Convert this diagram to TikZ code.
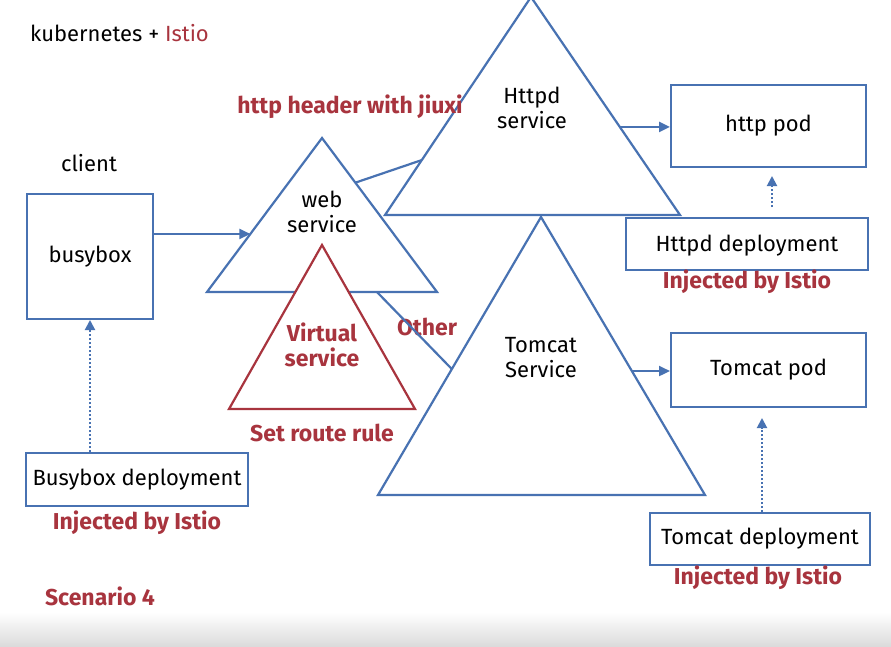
\documentclass[tikz,border=0pt]{standalone}
\usepackage{fontspec}
\setmainfont{Fira Sans}
\usetikzlibrary{arrows.meta,calc}
\definecolor{lblue}{RGB}{72,114,178}
\definecolor{lred}{RGB}{168,52,62}
\tikzset{
  bl/.style={draw=lblue,line width=2pt},
  box/.style={bl,fill=white,inner sep=0pt},
  tri/.style={draw=lblue,line width=2.2pt,fill=white,line join=miter},
  vtri/.style={draw=lred,line width=2.2pt,fill=white},
  arr/.style={draw=lblue,line width=2.2pt,-{Triangle[length=11pt,width=10pt]}},
  dep/.style={draw=lblue,line width=2pt,dotted,-{Triangle[length=10pt,width=10pt]}},
  btxt/.style={font=\fontsize{22}{25}\selectfont,text=black,align=center,inner sep=0pt},
  rtxt/.style={font=\fontsize{23}{25}\selectfont\bfseries,text=lred,align=center,inner sep=0pt},
}
\begin{document}
\begin{tikzpicture}[x=1pt,y=-1pt]
\useasboundingbox (0,0) rectangle (891,646);
\fill[white] (0,0) rectangle (891,646);
\shade[top color=white,bottom color=black!14] (0,612) rectangle (891,646);

% title
\node[btxt,anchor=west] (title) at (30,33) {kubernetes + \textcolor{lred}{Istio}};
\node[btxt] (client) at (89,163) {client};

% boxes
\node[box,minimum width=126pt,minimum height=125pt] (busybox) at (90,256.5) {};
\node[btxt] at (busybox.center) {busybox};
\node[box,minimum width=222pt,minimum height=53pt] (busydep) at (137,479.5) {};
\node[btxt] at (busydep.center) {Busybox deployment};
\node[rtxt] (inj1) at (137,523) {Injected by Istio};
\node[rtxt] (scen) at (100,596) {Scenario 4};

\node[box,minimum width=195pt,minimum height=82pt] (httppod) at (768.5,126) {};
\node[btxt] at (httppod.center) {http pod};
\node[box,minimum width=242pt,minimum height=52pt] (httpdep) at (747,244) {};
\node[btxt] at ([yshift=-2pt]httpdep.center) {Httpd deployment};
\node[rtxt] (inj2) at (747,282) {Injected by Istio};

\node[box,minimum width=195pt,minimum height=74pt] (tompod) at (768.5,370) {};
\node[btxt] at (tompod.center) {Tomcat pod};
\node[box,minimum width=220pt,minimum height=52pt] (tomdep) at (760,539) {};
\node[btxt] at (tomdep.center) {Tomcat deployment};
\node[rtxt] (inj3) at (758,578) {Injected by Istio};

% triangles
\coordinate (wA) at (322,138); \coordinate (wL) at (207,292); \coordinate (wR) at (437,292);
\coordinate (vA) at (322,245); \coordinate (vL) at (229,409); \coordinate (vR) at (415,409);
\coordinate (hA) at (531,-3);  \coordinate (hL) at (385,215); \coordinate (hR) at (680,215);
\coordinate (tA) at (541,217); \coordinate (tL) at (378,495); \coordinate (tR) at (705,495);

\draw[tri] (wA) -- (wL) -- (wR) -- cycle;
\draw[vtri] (vA) -- (vL) -- (vR) -- cycle;
\draw[tri] (hA) -- (hL) -- (hR) -- cycle;
\draw[tri] (tA) -- (tL) -- (tR) -- cycle;

\node[btxt] (web) at (322,212) {web\\service};
\node[rtxt] (virt) at (322,345) {Virtual\\service};
\node[rtxt] (rule) at (322,433) {Set route rule};
\node[btxt] (httpd) at (532,108) {Httpd\\service};
\node[btxt] (tomcat) at (541,358) {Tomcat\\Service};
\node[rtxt] (hdr) at (350,107) {http header with jiuxi};
\node[rtxt] (other) at (427,327) {Other};

% edge points
\coordinate (wIn) at ($(wA)!0.623!(wL)$);
\coordinate (wOut1) at ($(wA)!0.29!(wR)$);
\coordinate (hIn) at ($(hA)!0.748!(hL)$);
\coordinate (wOut2) at ($(wL)!0.739!(wR)$);
\coordinate (tIn) at ($(tA)!0.547!(tL)$);
\coordinate (hOut) at ($(hA)!0.596!(hR)$);
\coordinate (tOut) at ($(tA)!0.554!(tR)$);

% connectors
\draw[arr] (busybox.east |- wIn) -- (wIn);
\draw[bl,line width=2.2pt] (wOut1) -- (hIn);
\draw[bl,line width=2.2pt] (wOut2) -- (tIn);
\draw[arr] (hOut) -- (httppod.west |- hOut);
\draw[arr] (tOut) -- (tompod.west |- tOut);

\draw[dep] (busydep.north -| busybox.south) -- (busybox.south);
\draw[dep,shorten >=8pt] ([xshift=25pt,yshift=10pt]httpdep.north) -- ([xshift=3.5pt]httppod.south);
\draw[dep,shorten >=10pt] ([xshift=2pt]tomdep.north) -- ([xshift=-6.5pt]tompod.south);
\end{tikzpicture}
\end{document}
